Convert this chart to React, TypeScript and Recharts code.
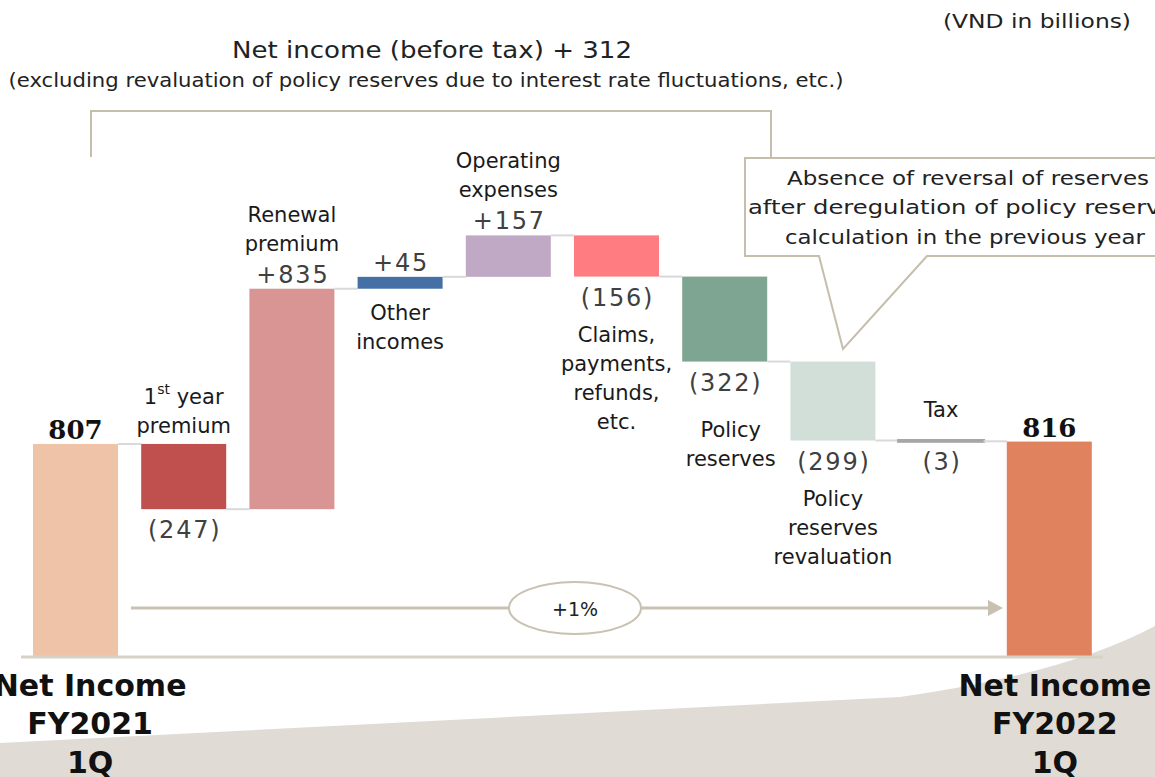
import React from "react";
import { BarChart, Bar, XAxis, YAxis, Cell, LabelList } from "recharts";

const W = 1155;
const H = 777;

// categories ("\n" marks the line breaks of the printed names)
const categories = [
  "Net Income\nFY2021\n1Q",
  "1st year\npremium",
  "Renewal\npremium",
  "Other\nincomes",
  "Operating\nexpenses",
  "Claims,\npayments,\nrefunds,\netc.",
  "Policy\nreserves",
  "Policy\nreserves\nrevaluation",
  "Tax",
  "Net Income\nFY2022\n1Q",
];
const changes = [807, -247, 835, 45, 157, -156, -322, -299, -3, 816];
const isTotal = [true, false, false, false, false, false, false, false, false, true];
const valueTexts = ["807", "(247)", "+835", "+45", "+157", "(156)", "(322)", "(299)", "(3)", "816"];
const namePlace = ["axis", "above", "above", "below", "above", "below", "below", "below", "above", "axis"];

const barColors = ["#efc3a8", "#c0504d", "#d99594", "#4470a6", "#bfa9c5", "#ff7c80", "#7ea591", "#d1dfd8", "#a6a6a6", "#e0825d"];

// waterfall rows: invisible base + visible step
let running = 0;
const rows = categories.map((name, i) => {
  const v = changes[i];
  if (isTotal[i]) {
    running = v;
    return { name, base: 0, size: v };
  }
  const from = running;
  running += v;
  return { name, base: Math.min(from, running), size: Math.abs(v) };
});

const M = { top: 129, right: 52, bottom: 80, left: 21 };
const AXIS_H = 40;
const PLOT_W = W - M.left - M.right;
const BAND = PLOT_W / categories.length;
const BAR_W = 85;

const TAN = "#c6bdac";
const LABEL_FONT = "'DejaVu Sans', Verdana, sans-serif";

// small per-bar label nudges
const nudge: Record<number, { dx?: number; dy?: number }> = {
  6: { dx: 6, dy: 10 },
  8: { dy: -13 },
};

function NameLine({ x, y, text }: { x: number; y: number; text: string }) {
  if (text.startsWith("1st")) {
    return (
      <text x={x} y={y} textAnchor="middle" dominantBaseline="central" fontFamily={LABEL_FONT} fontSize={21} fill="#1a1a1a">
        1<tspan fontSize={14} dy={-8}>st</tspan>
        <tspan dy={8}>{text.slice(3)}</tspan>
      </text>
    );
  }
  return (
    <text x={x} y={y} textAnchor="middle" dominantBaseline="central" fontFamily={LABEL_FONT} fontSize={21} fill="#1a1a1a">
      {text}
    </text>
  );
}

function renderLabels(props: any) {
  const vb = props.viewBox || props;
  const { x, y, width, height } = vb;
  const i = props.index;
  const n = nudge[i] || {};
  const cx = x + width / 2;
  const top = y;
  const bottom = y + height;
  const up = isTotal[i] || changes[i] > 0;
  const lines = categories[i].split("\n");
  const out: React.ReactNode[] = [];

  const valueY = up ? top - 14 : bottom + 21;
  if (isTotal[i]) {
    out.push(
      <text key="v" x={cx} y={valueY} textAnchor="middle" dominantBaseline="central" fontFamily="'DejaVu Serif', Georgia, serif" fontWeight="bold" fontSize={26} fill="#111">
        {valueTexts[i]}
      </text>
    );
  } else {
    out.push(
      <text key="v" x={cx + 1} y={valueY} textAnchor="middle" dominantBaseline="central" fontFamily={LABEL_FONT} fontSize={24} letterSpacing={1.8} fill="#404040">
        {valueTexts[i]}
      </text>
    );
  }

  if (namePlace[i] === "above") {
    const lastY = (up ? valueY - 31 : top - 18) + (n.dy || 0);
    lines.forEach((l, k) => {
      out.push(<NameLine key={"a" + k} x={cx + (n.dx || 0)} y={lastY - (lines.length - 1 - k) * 29} text={l} />);
    });
  } else if (namePlace[i] === "below") {
    const firstY = (up ? bottom + 24 : valueY + 37) + (n.dy || 0);
    lines.forEach((l, k) => {
      out.push(<NameLine key={"b" + k} x={cx + (n.dx || 0)} y={firstY + k * 29} text={l} />);
    });
  }
  return <g>{out}</g>;
}

function StepShape(props: any) {
  const { x, y, width, height, fill, index } = props;
  const up = isTotal[index] || changes[index] > 0;
  const level = up ? y : y + height;
  const thin = height < 3;
  return (
    <g>
      <rect x={x} y={y} width={width} height={height} fill={fill} stroke={thin ? fill : "none"} strokeWidth={thin ? 3 : 0} />
      {index < categories.length - 1 && (
        <line x1={x + width} x2={x + BAND} y1={level} y2={level} stroke="#d9d9d9" strokeWidth={2} />
      )}
    </g>
  );
}

function BottomTick(props: any) {
  const { x, y, payload } = props;
  const i = categories.indexOf(payload.value);
  if (namePlace[i] !== "axis") return <g />;
  const lines = String(payload.value).split("\n");
  const dx = i === 0 ? 15 : 6;
  return (
    <g>
      {lines.map((l, k) => (
        <text key={k} x={x + dx} y={y + 28 + k * 38.5} textAnchor="middle" dominantBaseline="central" fontFamily={LABEL_FONT} fontWeight="bold" fontSize={30} fill="#111">
          {l}
        </text>
      ))}
    </g>
  );
}

export default function App() {
  return (
    <div style={{ position: "absolute", left: 0, top: 0, width: W, height: H, background: "#fff", overflow: "hidden" }}>
      {/* backdrop sweep */}
      <svg width={W} height={H} style={{ position: "absolute", left: 0, top: 0 }}>
        <path d="M0,743 L900,697 Q1065,674 1155,626 V777 H0 Z" fill="#e0dcd5" />
      </svg>

      <div style={{ position: "absolute", left: 0, top: 0 }}>
        <BarChart width={W} height={H} data={rows} margin={M} barSize={BAR_W}>
          <XAxis
            dataKey="name"
            height={AXIS_H}
            interval={0}
            tickLine={false}
            tickSize={0}
            tickMargin={0}
            axisLine={{ stroke: "#d8d1c5", strokeWidth: 3 }}
            tick={<BottomTick />}
          />
          <YAxis hide domain={[0, 2000]} />
          <Bar dataKey="base" stackId="w" fill="transparent" isAnimationActive={false} />
          <Bar dataKey="size" stackId="w" shape={<StepShape />} isAnimationActive={false}>
            {rows.map((r, i) => (
              <Cell key={r.name} fill={barColors[i]} />
            ))}
            <LabelList dataKey="size" content={renderLabels} />
          </Bar>
        </BarChart>
      </div>

      {/* annotations */}
      <svg width={W} height={H} style={{ position: "absolute", left: 0, top: 0, pointerEvents: "none" }}>
        <text x={1037} y={21} textAnchor="middle" dominantBaseline="central" fontFamily={LABEL_FONT} fontSize={19} fill="#222" textLength={188} lengthAdjust="spacingAndGlyphs">
          (VND in billions)
        </text>
        <text x={432} y={50} textAnchor="middle" dominantBaseline="central" fontFamily={LABEL_FONT} fontSize={23} fill="#222" textLength={400} lengthAdjust="spacingAndGlyphs">
          Net income (before tax) + 312
        </text>
        <text x={426} y={80} textAnchor="middle" dominantBaseline="central" fontFamily={LABEL_FONT} fontSize={19} fill="#222" textLength={835} lengthAdjust="spacingAndGlyphs">
          (excluding revaluation of policy reserves due to interest rate fluctuations, etc.)
        </text>
        <path d="M91,157 V111 H771 V158" fill="none" stroke={TAN} strokeWidth={2} />

        <path d="M745,158 H1220 V256 H927 L843,349 L819,256 H745 Z" fill="#fff" stroke={TAN} strokeWidth={2} />
        <text x={968} y={178} textAnchor="middle" dominantBaseline="central" fontFamily={LABEL_FONT} fontSize={20} fill="#222" textLength={362} lengthAdjust="spacingAndGlyphs">
          Absence  of reversal  of reserves
        </text>
        <text x={968} y={207} textAnchor="middle" dominantBaseline="central" fontFamily={LABEL_FONT} fontSize={20} fill="#222" textLength={440} lengthAdjust="spacingAndGlyphs">
          after deregulation of policy reserves
        </text>
        <text x={965} y={237} textAnchor="middle" dominantBaseline="central" fontFamily={LABEL_FONT} fontSize={20} fill="#222" textLength={360} lengthAdjust="spacingAndGlyphs">
          calculation in the previous year
        </text>

        <line x1={131} x2={990} y1={608} y2={608} stroke="#c9c1b1" strokeWidth={3} />
        <path d="M988,600 L1003,608 L988,616 Z" fill="#c9c1b1" />
        <ellipse cx={575} cy={608} rx={66} ry={26} fill="#fff" stroke="#c9c1b1" strokeWidth={2} />
        <text x={575} y={609} textAnchor="middle" dominantBaseline="central" fontFamily={LABEL_FONT} fontSize={19} fill="#222">
          +1%
        </text>
      </svg>
    </div>
  );
}
